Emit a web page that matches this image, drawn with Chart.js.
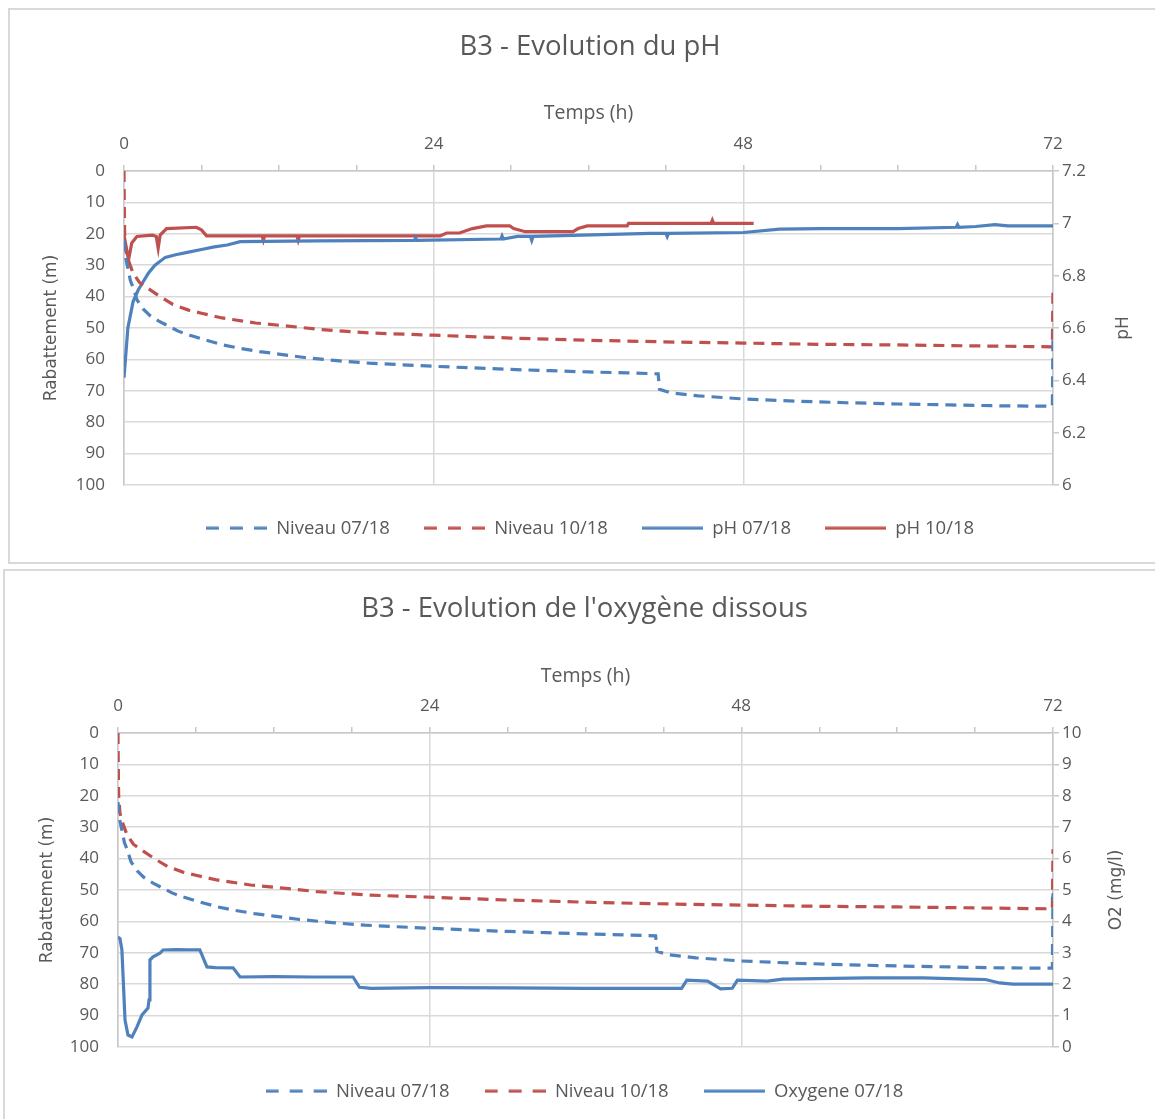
<!DOCTYPE html>
<html><head><meta charset="utf-8">
<script src="https://cdn.jsdelivr.net/npm/chart.js@4.4.1/dist/chart.umd.min.js"></script>
<style>
html,body{margin:0;padding:0;background:#fff;}
body{width:1155px;height:1119px;position:relative;overflow:hidden;}
.frame{position:absolute;border:2px solid #d9d9d9;box-sizing:border-box;}
#f1{left:8px;top:8px;width:1160px;height:556px;}
#f2{left:3px;top:569px;width:1165px;height:560px;}
canvas{position:absolute;left:0;}
#c1{top:0;}
#c2{top:566px;}
</style></head><body>
<div class="frame" id="f1"></div><div class="frame" id="f2"></div>
<canvas id="c1" width="1155" height="566"></canvas>
<canvas id="c2" width="1155" height="553"></canvas>
<script>
// ---- Data (time in hours) ----
const niv07T = [0, 0.1, 0.3, 0.5, 0.7, 1.0, 1.5, 2.0, 2.7, 3.5, 4.2, 5.1, 6.3, 7.7, 9.0, 10.5, 12.0, 14.0, 16.5, 19.0, 21.5, 24.0, 27.0, 30.0, 33.0, 36.0, 39.0, 41.4, 41.5, 42.3, 44.5, 48.0, 52.0, 56.0, 60.0, 64.0, 68.0, 71.95, 72.0];
const niv07  = [22, 27, 31, 35, 37, 41, 44, 46, 47.8, 49.5, 51, 52.3, 53.8, 55.4, 56.5, 57.5, 58.3, 59.4, 60.4, 61.2, 61.7, 62.2, 62.7, 63.2, 63.6, 64.0, 64.3, 64.6, 69.5, 70.6, 71.6, 72.6, 73.3, 73.8, 74.2, 74.5, 74.8, 74.9, 51];

const niv10T = [0, 0.02, 0.05, 0.15, 0.3, 0.7, 1.2, 1.9, 2.8, 3.8, 5.0, 6.0, 7.6, 10.2, 12.7, 15.3, 19.2, 24, 30, 37, 43, 48, 54, 60, 66, 71.95, 72];
const niv10  = [0, 10, 20, 25.5, 28, 32.5, 35.5, 37.5, 40, 42.5, 44.3, 45.3, 46.8, 48.4, 49.4, 50.5, 51.6, 52.3, 53.2, 54, 54.5, 54.8, 55.2, 55.4, 55.7, 56, 37];

const ph07T = [0, 0.3, 0.7, 1.1, 1.4, 1.9, 2.4, 3.2, 4.0, 5.0, 6.0, 7.0, 8.0, 9.0, 15, 22.5, 22.6, 22.7, 29.2, 29.3, 29.4, 30.5, 31.5, 31.6, 31.7, 35.5, 40.8, 42, 42.1, 42.2, 48, 50.8, 54, 60, 64.5, 64.6, 64.7, 66, 67.5, 68.5, 72];
const ph07  = [6.41, 6.60, 6.70, 6.745, 6.77, 6.81, 6.84, 6.87, 6.88, 6.89, 6.90, 6.91, 6.917, 6.93, 6.933, 6.935, 6.945, 6.935, 6.94, 6.952, 6.94, 6.95, 6.95, 6.935, 6.95, 6.955, 6.962, 6.962, 6.95, 6.962, 6.965, 6.978, 6.98, 6.98, 6.985, 6.995, 6.985, 6.988, 6.995, 6.99, 6.99];

const ph10T = [0, 0.35, 0.6, 1.0, 2.2, 2.5, 2.65, 2.8, 3.3, 5.6, 6.0, 6.4, 10.7, 10.8, 10.9, 13.4, 13.5, 13.6, 24.5, 25, 26, 27, 28.1, 29.9, 30.2, 31.1, 34.8, 35.2, 35.9, 39, 39.1, 45.5, 45.6, 45.7, 48.8];
const ph10  = [6.955, 6.86, 6.925, 6.95, 6.955, 6.95, 6.905, 6.955, 6.98, 6.985, 6.975, 6.952, 6.952, 6.935, 6.952, 6.952, 6.935, 6.952, 6.952, 6.963, 6.963, 6.98, 6.99, 6.99, 6.98, 6.968, 6.968, 6.98, 6.99, 6.99, 7.0, 7.0, 7.012, 7.0, 7.0];

const o2T = [0, 0.15, 0.3, 0.38, 0.54, 0.77, 1.08, 1.46, 1.85, 2.31, 2.39, 2.46, 2.7, 3.23, 3.47, 4.5, 5.5, 6.3, 6.85, 7.5, 8.86, 9.4, 12, 15, 18.1, 18.6, 19.5, 24, 30, 36, 43.4, 43.8, 45.4, 46.4, 47.3, 47.7, 50, 51.2, 57.7, 62, 65.4, 66.8, 67.9, 68.9, 72];
const o2  = [3.5, 3.45, 3.1, 2.36, 0.86, 0.38, 0.32, 0.64, 1.02, 1.24, 1.5, 2.77, 2.87, 2.99, 3.09, 3.1, 3.09, 3.09, 2.55, 2.53, 2.52, 2.23, 2.24, 2.23, 2.23, 1.9, 1.87, 1.89, 1.88, 1.87, 1.87, 2.13, 2.1, 1.85, 1.87, 2.13, 2.1, 2.16, 2.2, 2.2, 2.16, 2.15, 2.04, 2.0, 2.0];

const timeTicks = [0, 24, 48, 72];
const titles = ['B3 - Evolution du pH', "B3 - Evolution de l'oxygène dissous"];

// ---- Styles ----
const BLUE = '#4F81BD', RED = '#C0504D', GREY = '#595959';
const FONT = "'Open Sans', 'Noto Sans', sans-serif";
const AXF = "'DejaVu Sans', sans-serif";
const LW = 3.2;
const pts = (t, v) => t.map((x, i) => ({x: x, y: v[i]}));

function legendImg(color, dashed) {
  const c = document.createElement('canvas');
  c.width = 61; c.height = 4;
  const g = c.getContext('2d');
  g.strokeStyle = color; g.lineWidth = LW;
  g.setLineDash(dashed ? [13, 11] : []);
  g.beginPath(); g.moveTo(0, 2); g.lineTo(61, 2); g.stroke();
  return c;
}

function ds(label, t, v, color, dashed, axis) {
  return {label, data: pts(t, v), yAxisID: axis, borderColor: color, backgroundColor: color,
    borderWidth: LW, borderDash: dashed ? [11, 7] : [], pointRadius: 0, pointStyle: legendImg(color, dashed),
    tension: 0, fill: false};
}

const rightTitle = {
  id: 'rightTitle',
  afterDraw(chart, args, o) {
    const ctx = chart.ctx; const a = chart.chartArea;
    ctx.save(); ctx.fillStyle = GREY; ctx.font = '17px ' + AXF;
    ctx.textAlign = 'center'; ctx.textBaseline = 'middle';
    ctx.translate(o.x, (a.top + a.bottom) / 2); ctx.rotate(-Math.PI / 2);
    ctx.fillText(o.text, 0, 0); ctx.restore();
  }
};

function makeOptions(p) {
  return {
    responsive: false, animation: false, devicePixelRatio: 1,
    layout: {padding: {left: p.padL, right: 0, top: 0, bottom: p.padB}},
    plugins: {
      title: {display: true, text: p.title, color: GREY, font: {family: FONT, size: 27.5, weight: 'normal', lineHeight: 1.2}, padding: {top: p.titlePad, bottom: 0}},
      legend: {position: 'bottom', labels: {usePointStyle: true, pointStyleWidth: 61, color: GREY, font: {family: FONT, size: 18.5}, padding: p.legPad}},
      tooltip: {enabled: false},
      rightTitle: {text: p.rTitle, x: p.rTitleX}
    },
    scales: {
      x: {type: 'linear', position: 'top', min: 0, max: 72,
        afterFit: s => { s.height = 107.5; },
        ticks: {stepSize: 6, autoSkip: false, maxRotation: 0, color: GREY, font: {family: FONT, size: 17}, padding: 10.8,
          callback: v => timeTicks.includes(v) ? String(v) : ''},
        grid: {color: c => (c.tick && timeTicks.includes(c.tick.value)) ? '#d9d9d9' : 'rgba(0,0,0,0)', lineWidth: 1.5, tickColor: '#c8c8c8', tickLength: 6, drawTicks: true},
        border: {color: '#c8c8c8', width: 1.5},
        title: {display: true, text: 'Temps (h)', color: GREY, font: {family: FONT, size: 19.5}, padding: {top: p.xTitlePad, bottom: 0}}},
      yL: {position: 'left', reverse: true, min: 0, max: 100,
        afterFit: s => { s.width = p.lW; },
        ticks: {stepSize: 10, color: GREY, font: {family: FONT, size: 17}, padding: 19},
        grid: {color: '#d9d9d9', lineWidth: 1.5, drawTicks: false},
        border: {color: '#c8c8c8', width: 1.5},
        title: {display: true, text: 'Rabattement (m)', color: GREY, font: {family: AXF, size: 17}, padding: {top: p.lTitlePad, bottom: 0}}},
      yR: {position: 'right', min: p.rMin, max: p.rMax,
        afterFit: s => { s.width = 102; },
        ticks: {stepSize: p.rStep, color: GREY, font: {family: FONT, size: 17}, padding: 3,
          callback: v => String(parseFloat(Number(v).toFixed(1)))},
        grid: {drawOnChartArea: false, color: '#c8c8c8', tickLength: 6, lineWidth: 1.5},
        border: {color: '#c8c8c8', width: 1.5}}
    }
  };
}

new Chart(document.getElementById('c1'), {
  type: 'line',
  data: {datasets: [
    ds('Niveau 07/18', niv07T, niv07, BLUE, true, 'yL'),
    ds('Niveau 10/18', niv10T, niv10, RED, true, 'yL'),
    ds('pH 07/18', ph07T, ph07, BLUE, false, 'yR'),
    ds('pH 10/18', ph10T, ph10, RED, false, 'yR')
  ]},
  options: makeOptions({padL: 25, padB: 18.5, title: titles[0], titlePad: 30.5, legPad: 34, xTitlePad: 37.8,
    lW: 99, lTitlePad: 16.8, rMin: 6, rMax: 7.2, rStep: 0.2, rTitle: 'pH', rTitleX: 1124}),
  plugins: [rightTitle]
});

new Chart(document.getElementById('c2'), {
  type: 'line',
  data: {datasets: [
    ds('Niveau 07/18', niv07T, niv07, BLUE, true, 'yL'),
    ds('Niveau 10/18', niv10T, niv10, RED, true, 'yL'),
    ds('Oxygene 07/18', o2T, o2, BLUE, false, 'yR')
  ]},
  options: makeOptions({padL: 14, padB: 8.5, title: titles[1], titlePad: 26.5, legPad: 35, xTitlePad: 38.8,
    lW: 104, lTitlePad: 23.8, rMin: 0, rMax: 10, rStep: 1, rTitle: 'O2 (mg/l)', rTitleX: 1117}),
  plugins: [rightTitle]
});
</script>
</body></html>
